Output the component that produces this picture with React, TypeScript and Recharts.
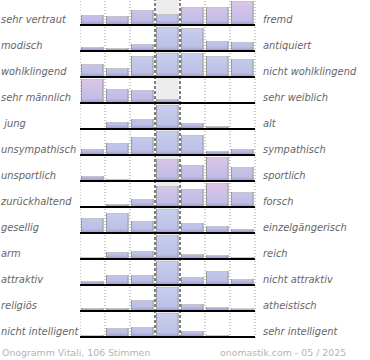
import React from "react"
import { BarChart, Bar, XAxis, YAxis, ReferenceLine } from "recharts"

const leftLabels = [
  "sehr vertraut", "modisch", "wohlklingend", "sehr männlich", " jung", "unsympathisch", "unsportlich",
  "zurückhaltend", "gesellig", "arm", "attraktiv", "religiös", "nicht intelligent",
]
const rightLabels = [
  "fremd", "antiquiert", "nicht wohlklingend", "sehr weiblich", "alt", "sympathisch", "sportlich",
  "forsch", "einzelgängerisch", "reich", "nicht attraktiv", "atheistisch", "sehr intelligent",
]

// relative bar heights per row (tallest bar of each row = 24)
const vertraut = [10, 9, 15, 11, 18, 18, 24]
const modisch = [4, 3, 7, 24, 23, 10, 9]
const wohlklingend = [13, 9, 21, 24, 24, 21, 18]
const maennlich = [24, 14, 13, 4, 0, 0, 0]
const jung = [1, 7, 10, 24, 6, 3, 1]
const unsympathisch = [6, 12, 18, 24, 20, 4, 6]
const unsportlich = [5, 2, 1, 22, 16, 24, 14]
const zurueckhaltend = [0.5, 3, 8, 21, 18, 24, 15]
const gesellig = [15, 20, 12, 24, 10, 7, 4]
const arm = [2, 7, 8, 24, 5, 4, 2]
const attraktiv = [4, 10, 10, 24, 8, 14, 6]
const religioes = [3, 3, 11, 24, 7, 4, 2.5]
const intelligent = [2, 9, 10, 24, 6, 2, 0.5]

// 0 = blue, 1 = lavender, 2 = pink
const tintVertraut = [1, 1, 1, 0, 2, 2, 2]
const tintMaennlich = [2, 1, 1, 0, 0, 0, 0]
const tintUnsportlich = [1, 0, 0, 2, 1, 2, 1]
const tintZurueckhaltend = [0, 0, 0, 2, 1, 2, 1]
const plain = [0, 0, 0, 0, 0, 0, 0]

const rows = [
  { values: vertraut, tint: tintVertraut },
  { values: modisch, tint: plain },
  { values: wohlklingend, tint: plain },
  { values: maennlich, tint: tintMaennlich },
  { values: jung, tint: plain },
  { values: unsympathisch, tint: plain },
  { values: unsportlich, tint: tintUnsportlich },
  { values: zurueckhaltend, tint: tintZurueckhaltend },
  { values: gesellig, tint: plain },
  { values: arm, tint: plain },
  { values: attraktiv, tint: plain },
  { values: religioes, tint: plain },
  { values: intelligent, tint: plain },
]

const columns = [0, 1, 2, 3, 4, 5, 6, 7]
const ROW_H = 26
const fills = ["url(#gBlue)", "url(#gMid)", "url(#gPink)"]

function BarShape(props: any) {
  const { x, y, width, height, payload } = props
  if (!height || height <= 0) return null
  return (
    <g>
      <rect x={x} y={y} width={width} height={height} fill={fills[payload.tint]} />
      <line x1={x} x2={x + width} y1={y + 0.5} y2={y + 0.5} stroke="#c4c4cc" />
      <line x1={x + 0.5} x2={x + 0.5} y1={y} y2={y + height} stroke="#9a9a9a" />
      <line x1={x + width - 0.5} x2={x + width - 0.5} y1={y} y2={y + height} stroke="#9a9a9a" />
    </g>
  )
}

function MiddleBand(props: any) {
  const { x, y, width, height, index } = props
  if (index !== 3) return <g />
  return <rect x={x} y={y} width={width} height={height} fill="#ececec" />
}

function Row({ values, tint, top }: { values: number[]; tint: number[]; top: number }) {
  const data = values.map((v, i) => ({ pos: i + 0.5, value: v, tint: tint[i] }))
  return (
    <div style={{ position: "absolute", left: 80, top, width: 176, height: ROW_H }}>
      <BarChart width={176} height={ROW_H} data={data} margin={{ top: 0, right: 1, bottom: 0, left: 0 }}>
        <XAxis type="number" dataKey="pos" domain={[0, 7]} hide />
        <YAxis type="number" domain={[-1, 25]} hide />
        <Bar
          dataKey="value"
          barSize={25}
          shape={BarShape}
          background={MiddleBand}
          isAnimationActive={false}
        />
        {columns.map((c) => (
          <ReferenceLine
            key={c}
            x={c}
            stroke={c === 3 || c === 4 ? "#000" : "#999"}
            strokeDasharray={c === 3 || c === 4 ? "3 2" : "1 2"}
          />
        ))}
        <ReferenceLine y={0} stroke="#000" strokeWidth={2} />
      </BarChart>
    </div>
  )
}

export default function App() {
  const labelFont = { fontFamily: "DejaVu Sans", fontSize: 9.9 }
  const captionFont = { fontFamily: "DejaVu Sans", fontSize: 9.4 }
  return (
    <div style={{ position: "absolute", left: 0, top: 0, width: 370, height: 360, background: "#fff" }}>
      <svg width={0} height={0} style={{ position: "absolute" }}>
        <defs>
          <linearGradient id="gBlue" gradientUnits="userSpaceOnUse" x1={0} y1={1} x2={0} y2={25}>
            <stop offset="0" stopColor="#c8cfee" />
            <stop offset="0.82" stopColor="#bcc0e6" />
            <stop offset="0.93" stopColor="#aaa6d7" />
            <stop offset="1" stopColor="#958ec6" />
          </linearGradient>
          <linearGradient id="gMid" gradientUnits="userSpaceOnUse" x1={0} y1={1} x2={0} y2={25}>
            <stop offset="0" stopColor="#d2c8ea" />
            <stop offset="0.82" stopColor="#bfbde6" />
            <stop offset="0.93" stopColor="#aaa6d7" />
            <stop offset="1" stopColor="#958ec6" />
          </linearGradient>
          <linearGradient id="gPink" gradientUnits="userSpaceOnUse" x1={0} y1={1} x2={0} y2={25}>
            <stop offset="0" stopColor="#dcc6e7" />
            <stop offset="0.82" stopColor="#c2bde6" />
            <stop offset="0.93" stopColor="#aaa6d7" />
            <stop offset="1" stopColor="#958ec6" />
          </linearGradient>
        </defs>
      </svg>
      {rows.map((r, i) => (
        <Row key={i} values={r.values} tint={r.tint} top={i * ROW_H} />
      ))}
      <svg width={370} height={360} style={{ position: "absolute", left: 0, top: 0, pointerEvents: "none" }}>
        {leftLabels.map((t, i) => (
          <text key={t} x={1} y={i * ROW_H + 23} fill="#666" fontStyle="italic" style={{ ...labelFont, whiteSpace: "pre" }}>
            {t}
          </text>
        ))}
        {rightLabels.map((t, i) => (
          <text key={t} x={263} y={i * ROW_H + 23} fill="#666" fontStyle="italic" style={labelFont}>
            {t}
          </text>
        ))}
        <text x={2} y={356} fill="#b4b4b4" style={captionFont}>
          Onogramm Vitali, 106 Stimmen
        </text>
        <text x={220} y={356} fill="#b4b4b4" style={captionFont}>
          onomastik.com - 05 / 2025
        </text>
      </svg>
    </div>
  )
}
